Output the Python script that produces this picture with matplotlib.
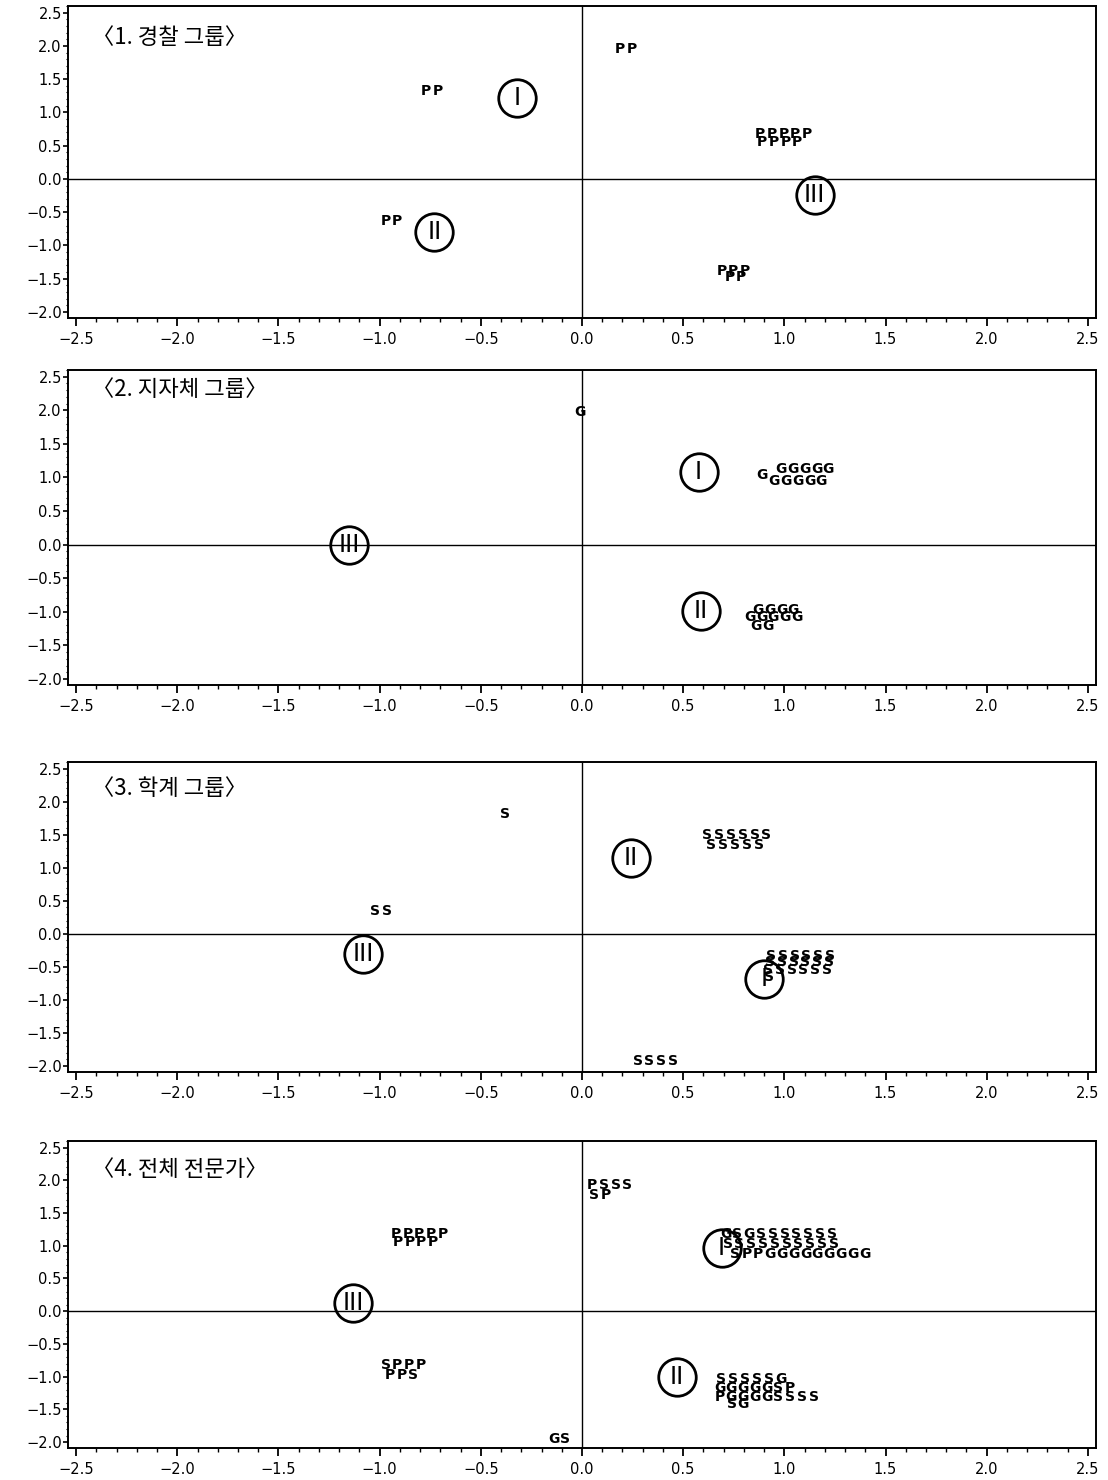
import matplotlib
matplotlib.use("Agg")
import matplotlib.pyplot as plt
from matplotlib.ticker import MultipleLocator, FuncFormatter

plt.rcParams['font.family'] = ['DejaVu Sans']

titles = ['〈1. 경찰 그룹〉', '〈2. 지자체 그룹〉', '〈3. 학계 그룹〉', '〈4. 전체 전문가〉']

# 응답자 기호 줄: 첫 글자의 x, y 좌표와 기호 문자열
police_x = [-0.80, 0.16, 0.85, 0.86, -1.00, 0.66, 0.70]
police_y = [1.32, 1.95, 0.67, 0.55, -0.63, -1.39, -1.47]
police_txt = ['PP', 'PP', 'PPPPP', 'PPPP', 'PP', 'PPP', 'PP']

gov_x = [-0.04, 0.86, 0.955, 0.92, 0.84, 0.80, 0.83]
gov_y = [1.98, 1.03, 1.12, 0.94, -0.97, -1.08, -1.21]
gov_txt = ['G', 'G', 'GGGGG', 'GGGGG', 'GGGG', 'GGGGG', 'GG']

acad_x = [-0.41, -1.05, 0.59, 0.61, 0.905, 0.90, 0.89, 0.895, 0.246]
acad_y = [1.81, 0.35, 1.50, 1.35, -0.33, -0.43, -0.54, -0.66, -1.93]
acad_txt = ['S', 'SS', 'SSSSSS', 'SSSSS', 'SSSSSS', 'SSSSSS', 'SSSSSS', 'S', 'SSSS']

all_x = [0.02, 0.03, -0.95, -0.94, -1.00, -0.98, -0.17,
         0.68, 0.69, 0.725, 0.66, 0.65, 0.65, 0.71]
all_y = [1.93, 1.78, 1.18, 1.06, -0.82, -0.97, -1.95,
         1.18, 1.03, 0.88, -1.03, -1.18, -1.31, -1.42]
all_txt = ['PSSS', 'SP', 'PPPPP', 'PPPP', 'SPPP', 'PPS', 'GS',
           'GSGSSSSSSS', 'SSSSSSSSSS', 'SPPGGGGGGGGG',
           'SSSSSG', 'GGGGGSP', 'PGGGGSSSS', 'SG']

# 군집 중심 (I, II, III)
police_cx, police_cy = [-0.32, -0.73, 1.15], [1.21, -0.79, -0.24]
gov_cx, gov_cy = [0.576, 0.586, -1.15], [1.08, -0.99, 0.0]
acad_cx, acad_cy = [0.90, 0.24, -1.08], [-0.69, 1.15, -0.31]
all_cx, all_cy = [0.69, 0.47, -1.13], [0.97, -1.00, 0.13]
cluster_names = ['I', 'II', 'III']

panels = [
    (police_x, police_y, police_txt, police_cx, police_cy),
    (gov_x, gov_y, gov_txt, gov_cx, gov_cy),
    (acad_x, acad_y, acad_txt, acad_cx, acad_cy),
    (all_x, all_y, all_txt, all_cx, all_cy),
]

# 패널 위치 (픽셀: 위, 아래) 와 제목 높이
W, H = 1108, 1480
boxes = [(6, 318), (370, 685), (762, 1072), (1141, 1448)]
title_y = [2.13, 2.31, 2.20, 2.16]

fig = plt.figure(figsize=(W / 100, H / 100), dpi=100)

pitch = 8.5  # 기호 글자 간격 (pt)
fmt = FuncFormatter(lambda v, p: f'{v:.1f}'.replace('-', '\u2212'))

for i, (xs, ys, txts, cx, cy) in enumerate(panels):
    top, bot = boxes[i]
    ax = fig.add_axes([68 / W, 1 - bot / H, 1028 / W, (bot - top) / H])
    ax.set_xlim(-2.54, 2.54)
    ax.set_ylim(-2.09, 2.6)

    ax.axhline(0, color='black', lw=1.0, zorder=1)
    ax.axvline(0, color='black', lw=1.0, zorder=1)

    for x, y, s in zip(xs, ys, txts):
        for k, ch in enumerate(s):
            ax.annotate(ch, (x, y), xytext=((k + 0.5) * pitch, 0),
                        textcoords='offset points', ha='center', va='center',
                        fontsize=10, fontweight='bold', color='black')

    ax.plot(cx, cy, 'o', ms=27, mfc='none', mec='black', mew=2.0, zorder=3)
    for x, y, name in zip(cx, cy, cluster_names):
        ax.text(x, y, name, ha='center', va='center', fontsize=17,
                color='black', zorder=4)

    ax.text(-2.42, title_y[i], titles[i], ha='left', va='center', fontsize=16,
            family=['Noto Sans CJK KR', 'DejaVu Sans'])

    ax.xaxis.set_major_locator(MultipleLocator(0.5))
    ax.xaxis.set_minor_locator(MultipleLocator(0.1))
    ax.yaxis.set_major_locator(MultipleLocator(0.5))
    ax.yaxis.set_minor_locator(MultipleLocator(0.1))
    ax.xaxis.set_major_formatter(fmt)
    ax.yaxis.set_major_formatter(fmt)
    ax.tick_params(axis='x', which='major', length=6, width=1.3, pad=4,
                   labelsize=10.5)
    ax.tick_params(axis='x', which='minor', length=3, width=1.0)
    ax.tick_params(axis='y', which='major', length=3.5, width=1.2, pad=1,
                   labelsize=10.5)
    ax.tick_params(axis='y', which='minor', length=1.8, width=0.8)
    for sp in ax.spines.values():
        sp.set_linewidth(1.4)

fig.savefig('out.png', dpi=100)
